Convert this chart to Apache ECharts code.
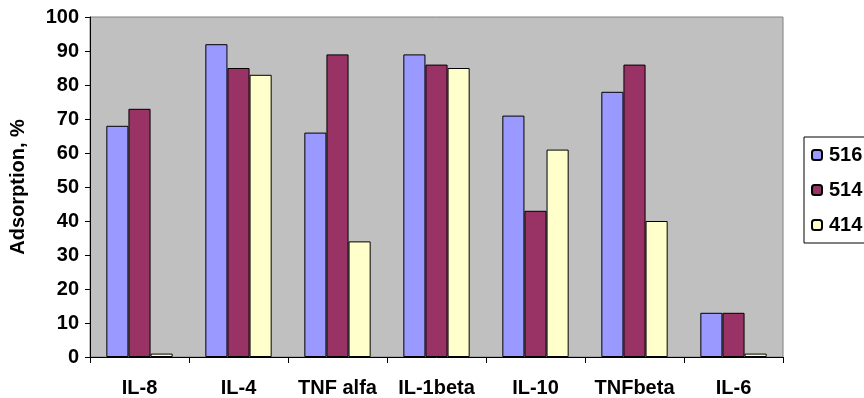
<!DOCTYPE html>
<html>
<head>
<meta charset="utf-8">
<script src="https://cdn.jsdelivr.net/npm/echarts@6/dist/echarts.min.js"></script>
<style>html,body{margin:0;padding:0;background:#fff;}#c{width:864px;height:398px;}</style>
</head>
<body>
<div id="c"></div>
<script>
var categories = ['IL-8', 'IL-4', 'TNF alfa', 'IL-1beta', 'IL-10', 'TNFbeta', 'IL-6'];
var seriesNames = ['516', '514', '414'];
var s516 = [68, 92, 66, 89, 71, 78, 13];
var s514 = [73, 85, 89, 86, 43, 86, 13];
var s414 = [1, 83, 34, 85, 61, 40, 1];
var colors = ['#9999FF', '#993366', '#FFFFCC'];

var font = '"Liberation Sans", Arial, sans-serif';
var chart = echarts.init(document.getElementById('c'), null, {renderer: 'canvas'});
function bar(name, data, color) {
  return {
    name: name, type: 'bar', data: data, barGap: '0%', barCategoryGap: '33%',
    itemStyle: {color: color, borderColor: '#000', borderWidth: 1}
  };
}
chart.setOption({
  animation: false,
  grid: {left: 89, right: 81, top: 17, bottom: 40.5, show: true,
         backgroundColor: '#C0C0C0', borderColor: '#808080', borderWidth: 1},
  legend: {
    orient: 'vertical', left: 804, top: 137,
    data: seriesNames,
    itemWidth: 10, itemHeight: 10, itemGap: 15,
    padding: [8, 40, 8, 7],
    borderColor: '#000', borderWidth: 1, backgroundColor: '#fff',
    textStyle: {fontFamily: font, fontWeight: 'bold', fontSize: 20, lineHeight: 18, color: '#000', padding: [0, 0, 0, 2]}
  },
  xAxis: {
    type: 'category', data: categories,
    axisLine: {lineStyle: {color: '#000', width: 1}},
    axisTick: {show: true, length: 6, lineStyle: {color: '#000'}},
    axisLabel: {interval: 0, fontFamily: font, fontWeight: 'bold', fontSize: 20, color: '#000', margin: 21}
  },
  yAxis: {
    type: 'value', min: 0, max: 100, interval: 10,
    name: 'Adsorption, %', nameLocation: 'middle', nameGap: 62,
    nameTextStyle: {fontFamily: font, fontWeight: 'bold', fontSize: 20, color: '#000'},
    axisLine: {show: true, lineStyle: {color: '#000', width: 1}},
    axisTick: {show: true, length: 5, lineStyle: {color: '#000'}},
    splitLine: {show: false},
    axisLabel: {fontFamily: font, fontWeight: 'bold', fontSize: 20, color: '#000', margin: 11}
  },
  series: [bar(seriesNames[0], s516, colors[0]), bar(seriesNames[1], s514, colors[1]), bar(seriesNames[2], s414, colors[2])]
});
</script>
</body>
</html>
